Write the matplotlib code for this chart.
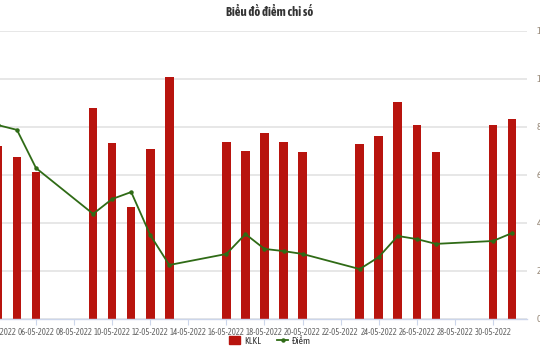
"""
Biểu đồ điểm chỉ số: KLKL bars with Điểm line, May 2022.
"""

import pandas as pd
import matplotlib
matplotlib.use("Agg")
import matplotlib.pyplot as plt
import matplotlib.dates as mdates
from matplotlib.patches import Patch
from matplotlib.lines import Line2D

plt.rcParams["font.family"] = ["Asap Condensed", "DejaVu Sans"]

DATES = ["2022-05-04", "2022-05-05", "2022-05-06", "2022-05-09", "2022-05-10",
         "2022-05-11", "2022-05-12", "2022-05-13", "2022-05-16", "2022-05-17",
         "2022-05-18", "2022-05-19", "2022-05-20", "2022-05-23", "2022-05-24",
         "2022-05-25", "2022-05-26", "2022-05-27", "2022-05-30", "2022-05-31"]

KLKL = [7.21, 6.75, 6.13, 8.79, 7.33, 4.67, 7.08, 10.08, 7.38, 7.0,
        7.75, 7.38, 6.96, 7.29, 7.63, 9.04, 8.08, 6.96, 8.08, 8.33]

DIEM = [8.08, 7.88, 6.29, 4.38, 5.0, 5.29, 3.5, 2.25, 2.71, 3.54,
        2.92, 2.83, 2.71, 2.08, 2.58, 3.46, 3.33, 3.13, 3.25, 3.58]

Y_TICKS = [0, 2, 4, 6, 8, 10, 12]

BAR_COLOR = "#b8140e"
LINE_COLOR = "#2f6b16"
GRID_COLOR = "#e3e3e3"
AXIS_COLOR = "#ccd6eb"


def main():
    dates = pd.to_datetime(DATES)
    x = mdates.date2num(dates)

    fig = plt.figure(figsize=(5.4, 3.6), dpi=100)
    W, H = 540, 360
    left_px, right_px, top_px, bottom_px = -30, 527, 31, 319
    ax = fig.add_axes([left_px / W, 1 - bottom_px / H,
                       (right_px - left_px) / W, (bottom_px - top_px) / H])

    ax.bar(x, KLKL, width=0.45, color=BAR_COLOR, zorder=2)
    ax.plot(x, DIEM, color=LINE_COLOR, lw=1.3, marker="o", ms=2.2, zorder=3)

    d0 = mdates.date2num(pd.Timestamp("2022-05-06"))
    px_day = 19.04
    ax.set_xlim(d0 - (36 - left_px) / px_day, d0 + (right_px - 36) / px_day)
    ax.set_ylim(0, 12)

    ax.xaxis.set_major_locator(mdates.DayLocator(bymonthday=range(2, 32, 2)))
    ax.xaxis.set_major_formatter(mdates.DateFormatter("%d-%m-%Y"))
    ax.tick_params(axis="x", labelsize=6.2, colors=AXIS_COLOR, labelcolor="#666666",
                   length=4, width=0.8, pad=2.5)

    ax.yaxis.tick_right()
    ax.set_yticks(Y_TICKS)
    ax.tick_params(axis="y", labelsize=7.5, length=0, pad=7, labelcolor="#9a8c7c")
    ax.grid(axis="y", color=GRID_COLOR, lw=1.2, zorder=0)
    ax.set_axisbelow(True)

    for s in ["top", "left", "right"]:
        ax.spines[s].set_visible(False)
    ax.spines["bottom"].set_color(AXIS_COLOR)
    ax.spines["bottom"].set_linewidth(1)

    fig.text(0.5, 1 - 12 / H, "Biểu đồ điểm chỉ số", ha="center", va="center",
             fontsize=9, fontweight="bold", color="#333333")

    handles = [Patch(color=BAR_COLOR),
               Line2D([], [], color=LINE_COLOR, lw=1.3, marker="o", ms=2.2)]
    fig.legend(handles, ["KLKL", "Điểm"], loc="center",
               bbox_to_anchor=(0.5, 1 - 341 / H), ncol=2,
               frameon=False, fontsize=7, handlelength=1.2, handleheight=0.9,
               columnspacing=1.6, handletextpad=0.4, labelcolor="#333333")

    fig.savefig("out.png", dpi=100)
    plt.close(fig)


if __name__ == "__main__":
    main()
